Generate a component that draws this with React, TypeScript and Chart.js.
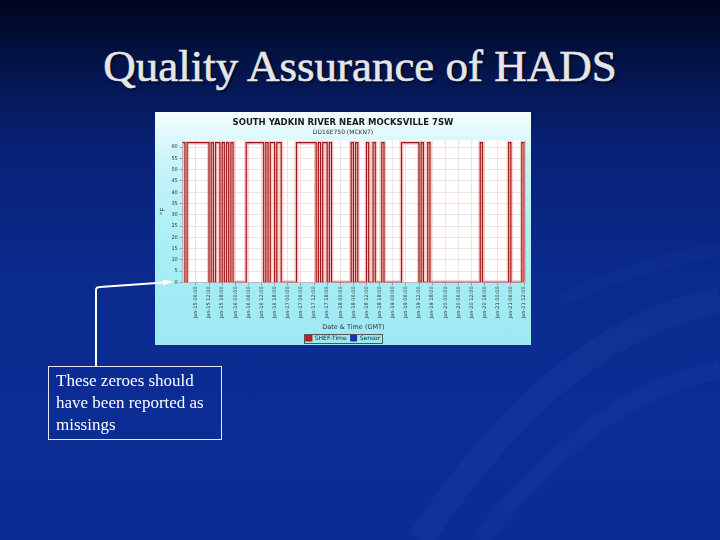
import React, { useEffect, useRef } from "react";
import { Chart, registerables } from "chart.js";

Chart.register(...registerables);

const slideTitle = "Quality Assurance of HADS";
const chartTitle = "SOUTH YADKIN RIVER NEAR MOCKSVILLE 7SW";
const chartSubtitle = "DD16E750 (MCKN7)";
const yAxisTitle = "°F";
const xAxisTitle = "Date & Time (GMT)";
const seriesNames = ["SHEF-Time", "Sensor"];
const calloutText = "These zeroes should have been reported as missings";

const xTickLabels = [
  "Jan-15 06:00", "Jan-15 12:00", "Jan-15 18:00",
  "Jan-16 00:00", "Jan-16 06:00", "Jan-16 12:00", "Jan-16 18:00",
  "Jan-17 00:00", "Jan-17 06:00", "Jan-17 12:00", "Jan-17 18:00",
  "Jan-18 00:00", "Jan-18 06:00", "Jan-18 12:00", "Jan-18 18:00",
  "Jan-19 00:00", "Jan-19 06:00", "Jan-19 12:00", "Jan-19 18:00",
  "Jan-20 00:00", "Jan-20 06:00", "Jan-20 12:00", "Jan-20 18:00",
  "Jan-21 00:00", "Jan-21 06:00", "Jan-21 12:00",
];

const yTicks = [0, 5, 10, 15, 20, 25, 30, 35, 40, 45, 50, 55, 60];

// hourly SHEF-Time values, starting Jan-15 00:00 GMT
const shefValues = [
  62, 0, 62, 62, 62, 62, 62, 62, 62, 62, 62, 62,
  0, 62, 0, 62, 62, 0, 62, 0, 62, 0, 62, 0,
  0, 0, 0, 0, 0, 62, 62, 62, 62, 62, 62, 62,
  62, 0, 62, 0, 62, 62, 0, 62, 62, 0, 0, 0,
  0, 0, 0, 0, 62, 62, 62, 62, 62, 62, 62, 62,
  62, 0, 62, 0, 62, 62, 0, 62, 0, 0, 0, 0,
  0, 0, 0, 0, 0, 62, 0, 62, 0, 0, 0, 0,
  62, 0, 0, 62, 0, 0, 0, 62, 0, 0, 0, 0,
  0, 0, 0, 0, 62, 62, 62, 62, 62, 62, 62, 62,
  0, 62, 0, 0, 62, 0, 0, 0, 0, 0, 0, 0,
  0, 0, 0, 0, 0, 0, 0, 0, 0, 0, 0, 0,
  0, 0, 0, 0, 62, 0, 0, 0, 0, 0, 0, 0,
  0, 0, 0, 0, 0, 62, 0, 0, 0, 0, 0, 62,
  0,
];
const sensorValues: number[] = [];

const plotBg = {
  id: "plotBg",
  beforeDraw(chart: any) {
    const { ctx, chartArea } = chart;
    ctx.save();
    ctx.fillStyle = "#ffffff";
    ctx.fillRect(chartArea.left, chartArea.top, chartArea.right - chartArea.left, chartArea.bottom - chartArea.top);
    ctx.restore();
  },
  afterDraw(chart: any) {
    const lg = chart.legend;
    if (!lg || !lg.legendHitBoxes || !lg.legendHitBoxes.length) return;
    const boxes = lg.legendHitBoxes;
    const l = Math.min(...boxes.map((b: any) => b.left)) - 2;
    const r = Math.max(...boxes.map((b: any) => b.left + b.width)) + 2;
    const t = Math.min(...boxes.map((b: any) => b.top)) - 1.5;
    const btm = Math.max(...boxes.map((b: any) => b.top + b.height)) + 1.5;
    const { ctx } = chart;
    ctx.save();
    ctx.strokeStyle = "#555";
    ctx.lineWidth = 1;
    ctx.strokeRect(Math.round(l) + 0.5, Math.round(t) + 0.5, Math.round(r - l), Math.round(btm - t));
    ctx.restore();
  },
};

function HadsChart() {
  const ref = useRef<HTMLCanvasElement | null>(null);
  useEffect(() => {
    if (!ref.current) return;
    const labels = shefValues.map((_, i) => String(i));
    const chart = new Chart(ref.current, {
      type: "line",
      data: {
        labels,
        datasets: [
          {
            label: seriesNames[0],
            data: shefValues,
            borderColor: "#9c1a1a",
            backgroundColor: "#c81e2a",
            borderWidth: 1.2,
            stepped: true,
            pointRadius: 0,
            fill: false,
            order: 0,
          },
          {
            label: seriesNames[1],
            data: sensorValues,
            borderColor: "#1b2fb8",
            backgroundColor: "#1b2fb8",
            borderWidth: 1,
            pointRadius: 0,
            order: 1,
          },
          {
            label: "halo",
            data: shefValues,
            borderColor: "rgba(240,90,90,0.32)",
            borderWidth: 4,
            stepped: true,
            pointRadius: 0,
            fill: false,
            order: 2,
          },
        ],
      },
      plugins: [plotBg],
      options: {
        animation: false,
        responsive: false,
        maintainAspectRatio: false,
        layout: { padding: { left: 4, right: 4, top: 1, bottom: -6 } },
        plugins: {
          title: {
            display: true,
            text: chartTitle,
            color: "#1a1a1a",
            font: { family: "DejaVu Sans", size: 8.5, weight: "bold" },
            padding: { top: 5, bottom: 1 },
          },
          subtitle: {
            display: true,
            text: chartSubtitle,
            color: "#333",
            font: { family: "DejaVu Sans", size: 6 },
            padding: { top: 0, bottom: 4 },
          },
          legend: {
            position: "bottom",
            labels: {
              boxWidth: 6,
              boxHeight: 6,
              padding: 4,
              color: "#222",
              font: { family: "DejaVu Sans", size: 6 },
              filter: (item: any) => item.text !== "halo",
            },
          },
          tooltip: { enabled: false },
        },
        scales: {
          x: {
            type: "category",
            offset: false,
            grid: { color: "#f1e2e2", tickLength: 3, drawTicks: true, tickColor: "#999" },
            border: { color: "#bbb" },
            ticks: {
              autoSkip: false,
              maxRotation: 90,
              minRotation: 90,
              padding: 1,
              color: "#333",
              font: { family: "DejaVu Sans", size: 5 },
              callback: (_v: any, idx: number) =>
                idx % 6 === 0 && idx > 0 ? xTickLabels[idx / 6 - 1] : null,
            },
            title: {
              display: true,
              text: xAxisTitle,
              color: "#333",
              font: { family: "DejaVu Sans", size: 6.5 },
              padding: { top: 4, bottom: 0 },
            },
          },
          y: {
            min: 0,
            max: 63,
            afterBuildTicks: (axis: any) => {
              axis.ticks = yTicks.map((v) => ({ value: v }));
            },
            grid: { color: "#f1e2e2", tickLength: 3, tickColor: "#999" },
            border: { color: "#bbb" },
            ticks: {
              padding: 2,
              color: "#333",
              font: { family: "DejaVu Sans", size: 5 },
            },
            title: {
              display: true,
              text: yAxisTitle,
              color: "#333",
              font: { family: "DejaVu Sans", size: 7 },
              padding: { top: 0, bottom: 2 },
            },
          },
        },
      },
    });
    return () => chart.destroy();
  }, []);
  return <canvas ref={ref} width={376} height={233} style={{ display: "block" }} />;
}

export default function App() {
  return (
    <div
      style={{
        position: "fixed",
        left: 0,
        top: 0,
        width: 720,
        height: 540,
        overflow: "hidden",
        background:
          "linear-gradient(180deg, #01061f 0%, #041449 12%, #082177 28%, #0a2a8c 50%, #0b2d94 75%, #0a2c93 100%)",
        fontFamily: "'Liberation Serif', serif",
      }}
    >
      <svg width={720} height={540} style={{ position: "absolute", left: 0, top: 0 }}>
        <path d="M 420 540 Q 560 330 720 300" stroke="rgba(120,150,255,0.05)" strokeWidth={26} fill="none" />
        <path d="M 480 540 Q 600 390 720 370" stroke="rgba(120,150,255,0.04)" strokeWidth={18} fill="none" />
        <path d="M 560 300 Q 650 260 720 250" stroke="rgba(120,150,255,0.03)" strokeWidth={14} fill="none" />
      </svg>
      <div
        style={{
          position: "absolute",
          left: 0,
          width: 720,
          top: 39,
          textAlign: "center",
          fontSize: 45,
          color: "#e6e6e6",
          WebkitTextStroke: "0.6px #e6e6e6",
          textShadow: "2px 2px 2px rgba(0,0,0,0.6)",
          lineHeight: "54px",
        }}
      >
        {slideTitle}
      </div>
      <div
        style={{
          position: "absolute",
          left: 155,
          top: 112,
          width: 376,
          height: 233,
          background: "linear-gradient(180deg, #f4fdff 0%, #c6f4fa 22%, #a9eef6 60%, #9de9f3 100%)",
        }}
      >
        <HadsChart />
      </div>
      <svg width={720} height={540} style={{ position: "absolute", left: 0, top: 0 }}>
        <path d="M 96 366 L 96 290 Q 96 287 100 287 L 164 282.5" stroke="#ffffff" strokeWidth={2} fill="none" />
        <polygon points="174,281.8 163,279.5 163,285.5" fill="#ffffff" />
      </svg>
      <div
        style={{
          position: "absolute",
          left: 48,
          top: 366,
          width: 174,
          height: 74,
          border: "1px solid #e8e8f0",
          color: "#ffffff",
          fontSize: 17,
          lineHeight: "22px",
          padding: "3px 0 0 7px",
          boxSizing: "border-box",
        }}
      >
        {calloutText}
      </div>
    </div>
  );
}
